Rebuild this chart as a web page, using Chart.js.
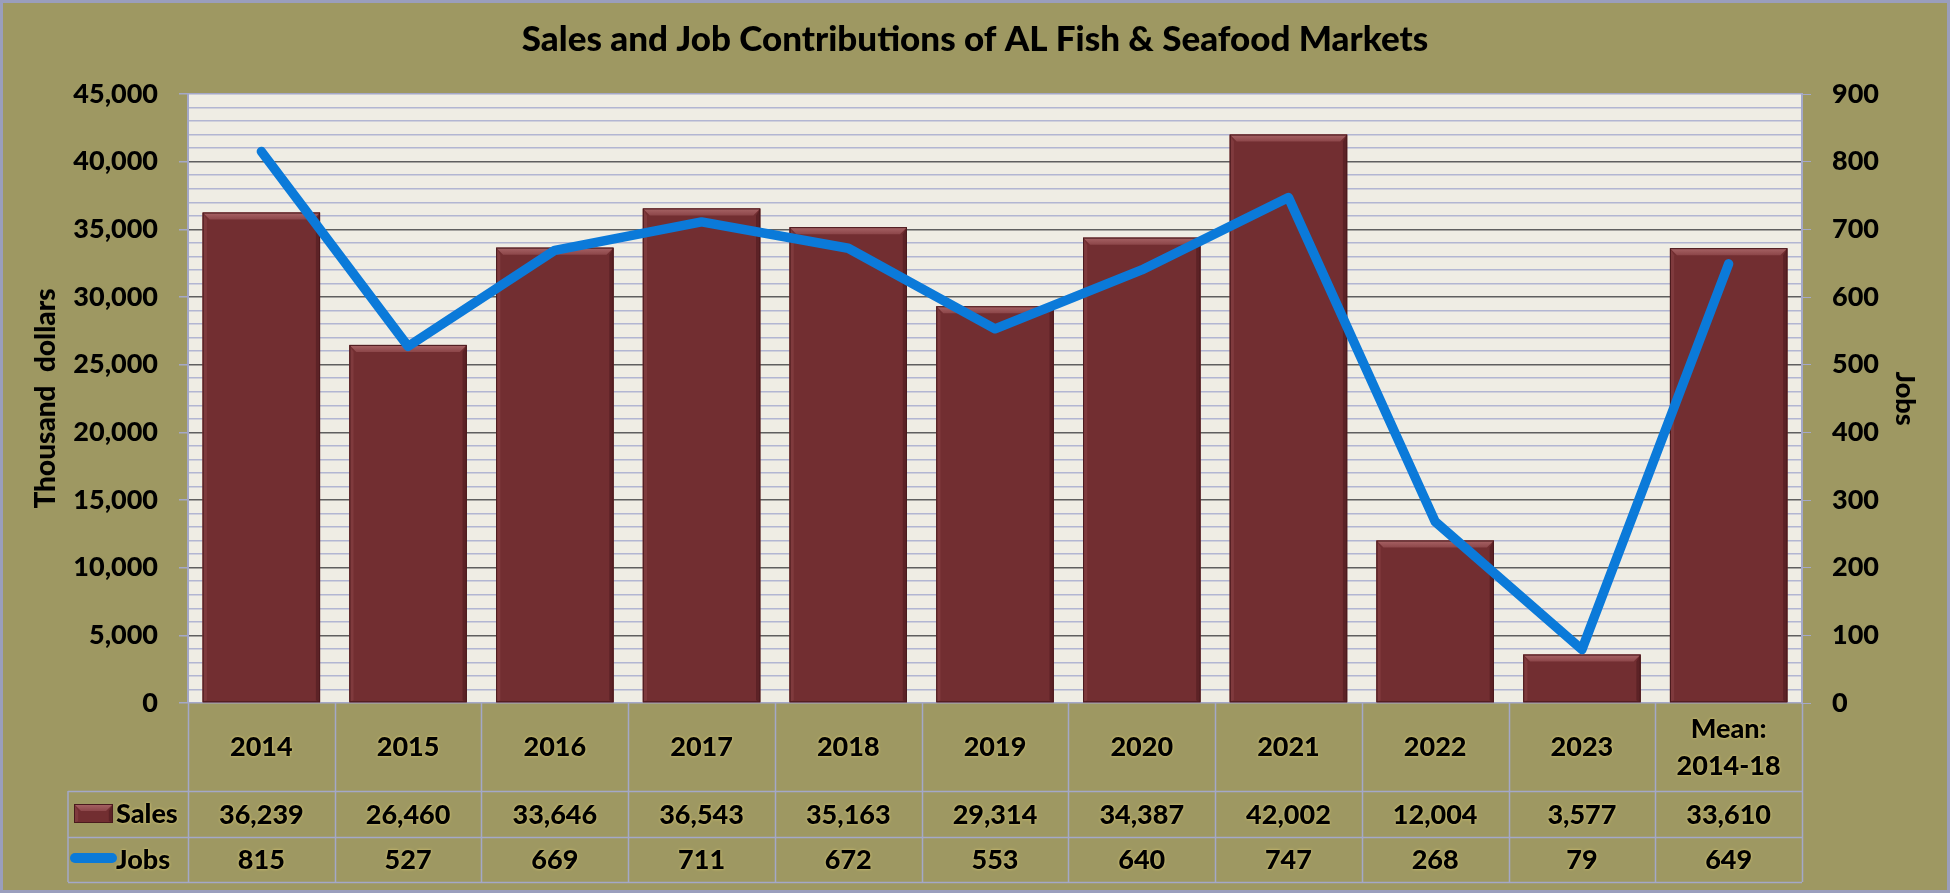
<!DOCTYPE html>
<html>
<head>
<meta charset="utf-8">
<script src="https://cdn.jsdelivr.net/npm/chart.js@4/dist/chart.umd.min.js"></script>
<style>
  html, body { margin: 0; padding: 0; background: #9e9862; }
  canvas { display: block; }
</style>
</head>
<body>
<canvas id="salesChart" width="1950" height="893"></canvas>
<script>
// chart data
const categories = ["2014", "2015", "2016", "2017", "2018", "2019", "2020", "2021", "2022", "2023", ["Mean:", "2014-18"]];
const sales = [36239, 26460, 33646, 36543, 35163, 29314, 34387, 42002, 12004, 3577, 33610];
const jobs = [815, 527, 669, 711, 672, 553, 640, 747, 268, 79, 649];
const salesTicks = [0, 5000, 10000, 15000, 20000, 25000, 30000, 35000, 40000, 45000];
const jobsTicks = [0, 100, 200, 300, 400, 500, 600, 700, 800, 900];

const FONT = "Lato";
const WEIGHT = "900";
const lavender = "#a4a8c8";
const maroon = "#722e31";
const blue = "#0b7ad9";

document.addEventListener("DOMContentLoaded", function() {
    const ctx = document.getElementById("salesChart").getContext("2d");

    function glowText(c, text, x, y, align) {
        c.save();
        c.textAlign = align || "center";
        c.textBaseline = "middle";
        c.shadowColor = "rgba(235, 215, 120, 0.9)";
        c.shadowBlur = 3;
        c.fillStyle = "#000";
        c.fillText(text, x, y);
        c.restore();
    }

    function bevelBar(c, left, top, right, bottom) {
        if (![left, top, right, bottom].every(Number.isFinite)) return;
        const b = Math.min(7, (bottom - top) / 2);
        c.save();
        c.fillStyle = maroon;
        c.fillRect(left, top, right - left, bottom - top);
        // top facet
        let g = c.createLinearGradient(0, top, 0, top + b);
        g.addColorStop(0, "#a86466");
        g.addColorStop(1, "#8c4649");
        c.fillStyle = g;
        c.beginPath();
        c.moveTo(left, top); c.lineTo(right, top);
        c.lineTo(right - b, top + b); c.lineTo(left + b, top + b);
        c.closePath(); c.fill();
        // left facet
        c.fillStyle = "#7f3a3d";
        c.beginPath();
        c.moveTo(left, top); c.lineTo(left + b * 0.6, top + b);
        c.lineTo(left + b * 0.6, bottom - 2); c.lineTo(left, bottom);
        c.closePath(); c.fill();
        // right facet
        c.fillStyle = "#5c2226";
        c.beginPath();
        c.moveTo(right, top); c.lineTo(right - b * 0.6, top + b);
        c.lineTo(right - b * 0.6, bottom - 2); c.lineTo(right, bottom);
        c.closePath(); c.fill();
        c.strokeStyle = "#4a1a1d";
        c.lineWidth = 1;
        c.strokeRect(left + 0.5, top + 0.5, right - left - 1, bottom - top - 1);
        c.restore();
    }

    const backgroundPlugin = {
        id: "background",
        beforeDraw(chart) {
            const c = chart.ctx, a = chart.chartArea;
            c.save();
            c.fillStyle = "#9e9862";
            c.fillRect(0, 0, chart.width, chart.height);
            c.fillStyle = "#efede4";
            c.fillRect(a.left, a.top, a.right - a.left, a.bottom - a.top);
            c.restore();
        }
    };

    const bevelPlugin = {
        id: "bevel",
        afterDatasetDraw(chart, args) {
            if (args.meta.type !== "bar") return;
            args.meta.data.forEach(el => {
                const p = el.getProps(["x", "y", "base", "width"], true);
                bevelBar(chart.ctx, p.x - p.width / 2, p.y, p.x + p.width / 2, p.base);
            });
        }
    };

    const tablePlugin = {
        id: "dataTable",
        afterDraw(chart) {
            const c = chart.ctx, a = chart.chartArea, x = chart.scales.x;
            const n = categories.length;
            const cw = (a.right - a.left) / n;
            const rowCat = a.bottom + 88, rowSales = rowCat + 46, rowJobs = rowSales + 45;
            const tableLeft = 68;

            c.save();
            c.strokeStyle = lavender;
            c.lineWidth = 1.5;
            c.beginPath();
            for (let k = 0; k <= n; k++) {
                const px = Math.round(a.left + k * cw) + 0.5;
                c.moveTo(px, a.bottom); c.lineTo(px, rowJobs);
            }
            c.moveTo(tableLeft, rowCat); c.lineTo(tableLeft, rowJobs);
            [rowCat, rowSales, rowJobs].forEach(y => {
                c.moveTo(tableLeft, y + 0.5); c.lineTo(a.right, y + 0.5);
            });
            c.stroke();

            c.font = WEIGHT + " 27px " + FONT;
            categories.forEach((label, i) => {
                const cx = x.getPixelForValue(i);
                if (Array.isArray(label)) {
                    glowText(c, label[0], cx, a.bottom + 26);
                    glowText(c, label[1], cx, a.bottom + 63);
                } else {
                    glowText(c, label, cx, (a.bottom + rowCat) / 2);
                }
                glowText(c, sales[i].toLocaleString("en-US"), cx, (rowCat + rowSales) / 2 + 1);
                glowText(c, jobs[i].toLocaleString("en-US"), cx, (rowSales + rowJobs) / 2 + 1);
            });

            // legend keys
            bevelBar(c, 74, rowCat + 13, 113, rowCat + 32);
            glowText(c, "Sales", 116, (rowCat + rowSales) / 2, "left");
            c.save();
            c.strokeStyle = blue;
            c.lineWidth = 10;
            c.lineCap = "round";
            c.beginPath();
            c.moveTo(75, rowSales + 21); c.lineTo(112, rowSales + 21);
            c.stroke();
            c.restore();
            glowText(c, "Jobs", 116, (rowSales + rowJobs) / 2 + 1, "left");

            // outer frame
            c.strokeStyle = "#9a9ebd";
            c.lineWidth = 3;
            c.strokeRect(1.5, 1.5, chart.width - 3, chart.height - 3);
            c.restore();
        }
    };

    new Chart(ctx, {
        data: {
            labels: categories,
            datasets: [
                {
                    type: "line", label: "Jobs", data: jobs, yAxisID: "y1", order: 1,
                    borderColor: blue, borderWidth: 9.5, borderCapStyle: "round", borderJoinStyle: "round",
                    pointRadius: 0, fill: false, tension: 0
                },
                {
                    type: "bar", label: "Sales", data: sales, yAxisID: "y", order: 2,
                    backgroundColor: maroon, barPercentage: 0.8, categoryPercentage: 1.0
                }
            ]
        },
        options: {
            responsive: false,
            devicePixelRatio: 1,
            animation: false,
            layout: { padding: 0 },
            plugins: {
                legend: { display: false },
                tooltip: { enabled: false },
                title: {
                    display: true,
                    text: "Sales and Job Contributions of AL Fish & Seafood Markets",
                    color: "#000",
                    font: { family: FONT, size: 35, weight: WEIGHT, lineHeight: 1.2 },
                    padding: { top: 19, bottom: 33 }
                }
            },
            scales: {
                x: {
                    display: true,
                    offset: true,
                    grid: { display: false },
                    border: { display: false },
                    ticks: { display: false },
                    afterFit(scale) { scale.height = 190; }
                },
                y: {
                    position: "left",
                    min: 0, max: 45000,
                    afterFit(scale) { scale.width = 188; },
                    afterBuildTicks(scale) {
                        const t = [];
                        for (let v = 0; v <= 45000; v += 1000) t.push({ value: v });
                        scale.ticks = t;
                    },
                    border: { display: true, color: lavender, width: 2 },
                    grid: {
                        color(c) {
                            const v = c.tick.value;
                            if (v === 0 || v === 45000) return lavender;
                            return v % 5000 === 0 ? "#5f5f5f" : "#b2b6d2";
                        },
                        lineWidth: 1.5,
                        tickLength: 9,
                        tickColor(c) {
                            return salesTicks.includes(c.tick.value) ? lavender : "rgba(0,0,0,0)";
                        }
                    },
                    ticks: {
                        autoSkip: false,
                        padding: 21,
                        color: "#000",
                        font: { family: FONT, size: 27, weight: WEIGHT },
                        callback(v) { return salesTicks.includes(v) ? v.toLocaleString("en-US") : ""; }
                    },
                    title: {
                        display: true,
                        text: "Thousand  dollars",
                        color: "#000",
                        font: { family: FONT, size: 28, weight: WEIGHT, lineHeight: 1.2 },
                        padding: { top: 29, bottom: 0 }
                    }
                },
                y1: {
                    position: "right",
                    min: 0, max: 900,
                    afterFit(scale) { scale.width = 148; },
                    afterBuildTicks(scale) { scale.ticks = jobsTicks.map(v => ({ value: v })); },
                    border: { display: true, color: lavender, width: 2 },
                    grid: { drawOnChartArea: false, tickLength: 9, tickColor: lavender },
                    ticks: {
                        padding: 21,
                        color: "#000",
                        font: { family: FONT, size: 27, weight: WEIGHT }
                    },
                    title: {
                        display: true,
                        text: "Jobs",
                        color: "#000",
                        font: { family: FONT, size: 27, weight: WEIGHT, lineHeight: 1.2 },
                        padding: { top: 29, bottom: 0 }
                    }
                }
            }
        },
        plugins: [backgroundPlugin, bevelPlugin, tablePlugin]
    });
});
</script>
</body>
</html>
